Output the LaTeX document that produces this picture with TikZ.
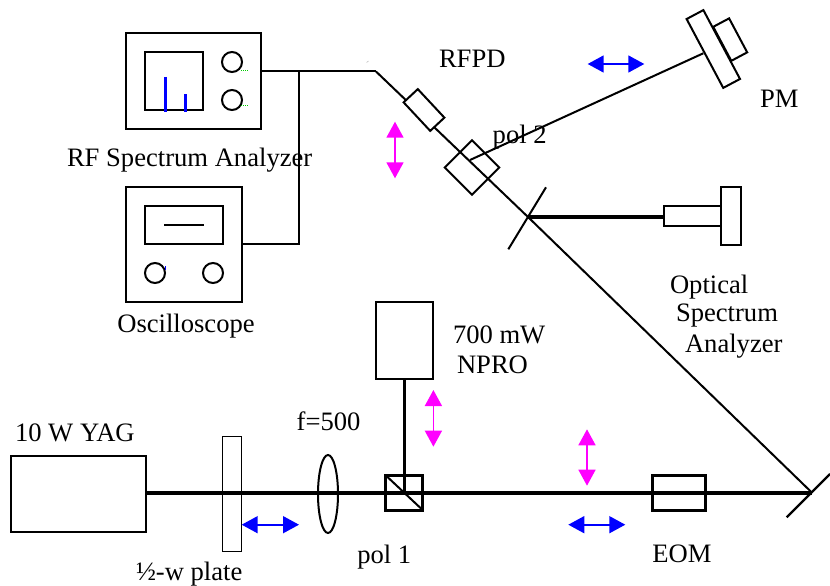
\documentclass[tikz,border=0pt]{standalone}
\usepackage{fontspec}
\setmainfont{Liberation Serif}
\usepackage{tikz}
\usetikzlibrary{arrows.meta}
\usetikzlibrary{shapes.geometric}
\definecolor{polpink}{RGB}{255,0,255}
\definecolor{polblue}{RGB}{0,0,255}
\tikzset{
    box/.style={
        draw,
        rectangle,
        line width=2pt,
        inner sep=0pt,
        outer sep=0pt
    },
    whitebox/.style={
        box,
        fill=white
    },
    knob/.style={
        draw,
        circle,
        line width=2pt,
        minimum size=20pt,
        inner sep=0pt,
        outer sep=0pt
    },
    tag/.style={
        anchor=base west,
        inner sep=0pt,
        outer sep=0pt,
        font=\fontsize{26.6}{30}\selectfont
    },
    beam/.style={
        line width=3.6pt
    },
    thinbeam/.style={
        line width=2pt
    },
    wire/.style={
        line width=2pt
    },
    magarrow/.style={
        {Triangle[length=16pt, width=17pt]}-{Triangle[length=16pt, width=17pt]},
        polpink,
        line width=1.6pt
    },
    bluearrow/.style={
        {Triangle[length=16pt, width=17pt]}-{Triangle[length=16pt, width=17pt]},
        polblue,
        line width=1.6pt
    }
}

\begin{document}
\begin{tikzpicture}[x=1pt, y=-1pt]
    \useasboundingbox (0,0) rectangle (830,586);

    % rf spectrum analyzer
    \node[box, minimum width=135pt, minimum height=96pt] (sa) at (193.5,81) {};
    \node[box, minimum width=58pt, minimum height=58pt] (sascreen) at (174,81) {};
    \node[knob] (saknobA) at (232,62) {};
    \node[knob] (saknobB) at (232,100) {};
    \draw[polblue, line width=2.7pt] (165.5,77) -- (165.5,112);
    \draw[polblue, line width=2.7pt] (185.5,94) -- (185.5,112);
    \draw[green!80!black, line width=1pt, densely dotted] (241,70.5) -- (248,70.5);
    \draw[green!80!black, line width=1pt, densely dotted] (241,105) -- (248,105);

    % oscilloscope
    \node[box, minimum width=116pt, minimum height=115pt] (osc) at (184,244.5) {};
    \node[box, minimum width=78pt, minimum height=38pt] (oscscreen) at (184,225) {};
    \node[knob] (oscknobA) at (155,273) {};
    \node[knob] (oscknobB) at (213,273) {};
    \draw[line width=1.4pt] (164,225) -- (204,225);
    \draw[polblue, line width=0.8pt] (165.5,266) -- (165.5,270);

    % wires and the diagonal
    \coordinate (bend) at (376,71.5);
    \coordinate (tee) at (299,71.5);
    \coordinate (teelow) at (299,244);
    \coordinate (mirrorA) at (528,217);
    \coordinate (mirrorB) at (812,492.7);
    \draw[wire] (sa.east |- bend) -- (bend);
    \draw[wire] (tee) -- (teelow) -- (osc.east |- teelow);
    \draw[thinbeam] (bend) -- (mirrorA) -- (mirrorB);
    \draw[gray!50, line width=0.6pt] (366.5,62.5) -- (368.5,61);

    % detector, pol 2 and the power meter
    \node[whitebox, rotate=-47, minimum width=39pt, minimum height=19.4pt] (rfpd) at (424,110) {};
    \node[box, rotate=-45, minimum width=38.5pt, minimum height=38.5pt] (poltwo) at (472,167.5) {};
    \coordinate (polpick) at (470,160);
    \node[box, rotate=-62, minimum width=38.5pt, minimum height=18pt] (pmhead) at (730.2,39.6) {};
    \node[whitebox, rotate=-62, minimum width=78pt, minimum height=19pt] (pm) at (713.3,49) {};
    \coordinate (pmin) at (703.3,53.3);
    \draw[wire] (polpick) -- (pmin);

    % pickoff and the optical spectrum analyzer
    \coordinate (pickA) at (546,187.3);
    \coordinate (pickB) at (508.3,249.3);
    \draw[wire] (pickA) -- (pickB);
    \node[box, minimum width=57.3pt, minimum height=19.4pt] (osa) at (692.6,216) {};
    \node[box, minimum width=19.7pt, minimum height=58.3pt] (osaplate) at (731.1,215.8) {};
    \draw[beam] (mirrorA) -- (osa.west |- mirrorA);

    % lasers and the main beam
    \node[box, line width=2.2pt, minimum width=134.7pt, minimum height=76.6pt] (yag) at (78.3,494) {};
    \node[box, line width=1.4pt, minimum width=57pt, minimum height=77pt] (npro) at (404.5,340.5) {};
    \coordinate (cubemid) at (404.3,492.7);
    \draw[beam] (npro.south -| cubemid) -- (cubemid);
    \draw[beam] (yag.east |- mirrorB) -- (mirrorB);
    \node[box, line width=1.4pt, minimum width=19.4pt, minimum height=115.4pt] (plate) at (232,494) {};
    \node[draw, ellipse, line width=2pt, inner sep=0pt, outer sep=0pt, minimum width=20pt, minimum height=78pt] (lens) at (328,494) {};
    \node[box, line width=3pt, minimum width=37.3pt, minimum height=35pt] (cube) at (404.3,492.8) {};
    \draw[wire] (cube.north west) -- (cube.south east);
    \node[box, line width=2.6pt, minimum width=53.4pt, minimum height=35pt] (eom) at (679,492.8) {};
    \coordinate (endA) at (786.7,517.3);
    \coordinate (endB) at (830,474);
    \draw[line width=2.2pt] (endA) -- (endB);

    % polarization arrows
    \coordinate (magAt) at (395,121.7);
    \coordinate (magAb) at (395,178.3);
    \coordinate (magBt) at (433.4,390);
    \coordinate (magBb) at (433.4,446.7);
    \coordinate (magCt) at (587,429.3);
    \coordinate (magCb) at (587,485.7);
    \draw[magarrow] (magAt) -- (magAb);
    \draw[magarrow] (magBt) -- (magBb);
    \draw[magarrow] (magCt) -- (magCb);
    \coordinate (bluAl) at (587.7,64);
    \coordinate (bluAr) at (644.3,64);
    \coordinate (bluBl) at (241.7,524.7);
    \coordinate (bluBr) at (299,524.7);
    \coordinate (bluCl) at (568.3,524.7);
    \coordinate (bluCr) at (625.3,524.7);
    \draw[bluearrow] (bluAl) -- (bluAr);
    \draw[bluearrow] (bluBl) -- (bluBr);
    \draw[bluearrow] (bluCl) -- (bluCr);

    % labels
    \node[tag] (lblsa) at (67,166) {RF Spectrum Analyzer};
    \node[tag] (lblosc) at (117.3,332) {Oscilloscope};
    \node[tag] (lblrfpd) at (439,67.7) {RFPD};
    \node[tag] (lblpoltwo) at (492.7,143.3) {pol 2};
    \node[tag] (lblpm) at (760,107.7) {PM};
    \node[tag] (lblosaA) at (670,293) {Optical};
    \node[tag] (lblosaB) at (676,321) {Spectrum};
    \node[tag] (lblosaC) at (685,352) {Analyzer};
    \node[tag] (lblnproA) at (453,343) {700 mW};
    \node[tag] (lblnproB) at (457,373) {NPRO};
    \node[tag] (lblyag) at (15,441.7) {10 W YAG};
    \node[tag] (lbllens) at (296.7,430.7) {f=500};
    \node[tag] (lblpolone) at (357.3,563) {pol 1};
    \node[tag] (lblplate) at (136,580) {½-w plate};
    \node[tag] (lbleom) at (652.3,562.3) {EOM};
\end{tikzpicture}
\end{document}
